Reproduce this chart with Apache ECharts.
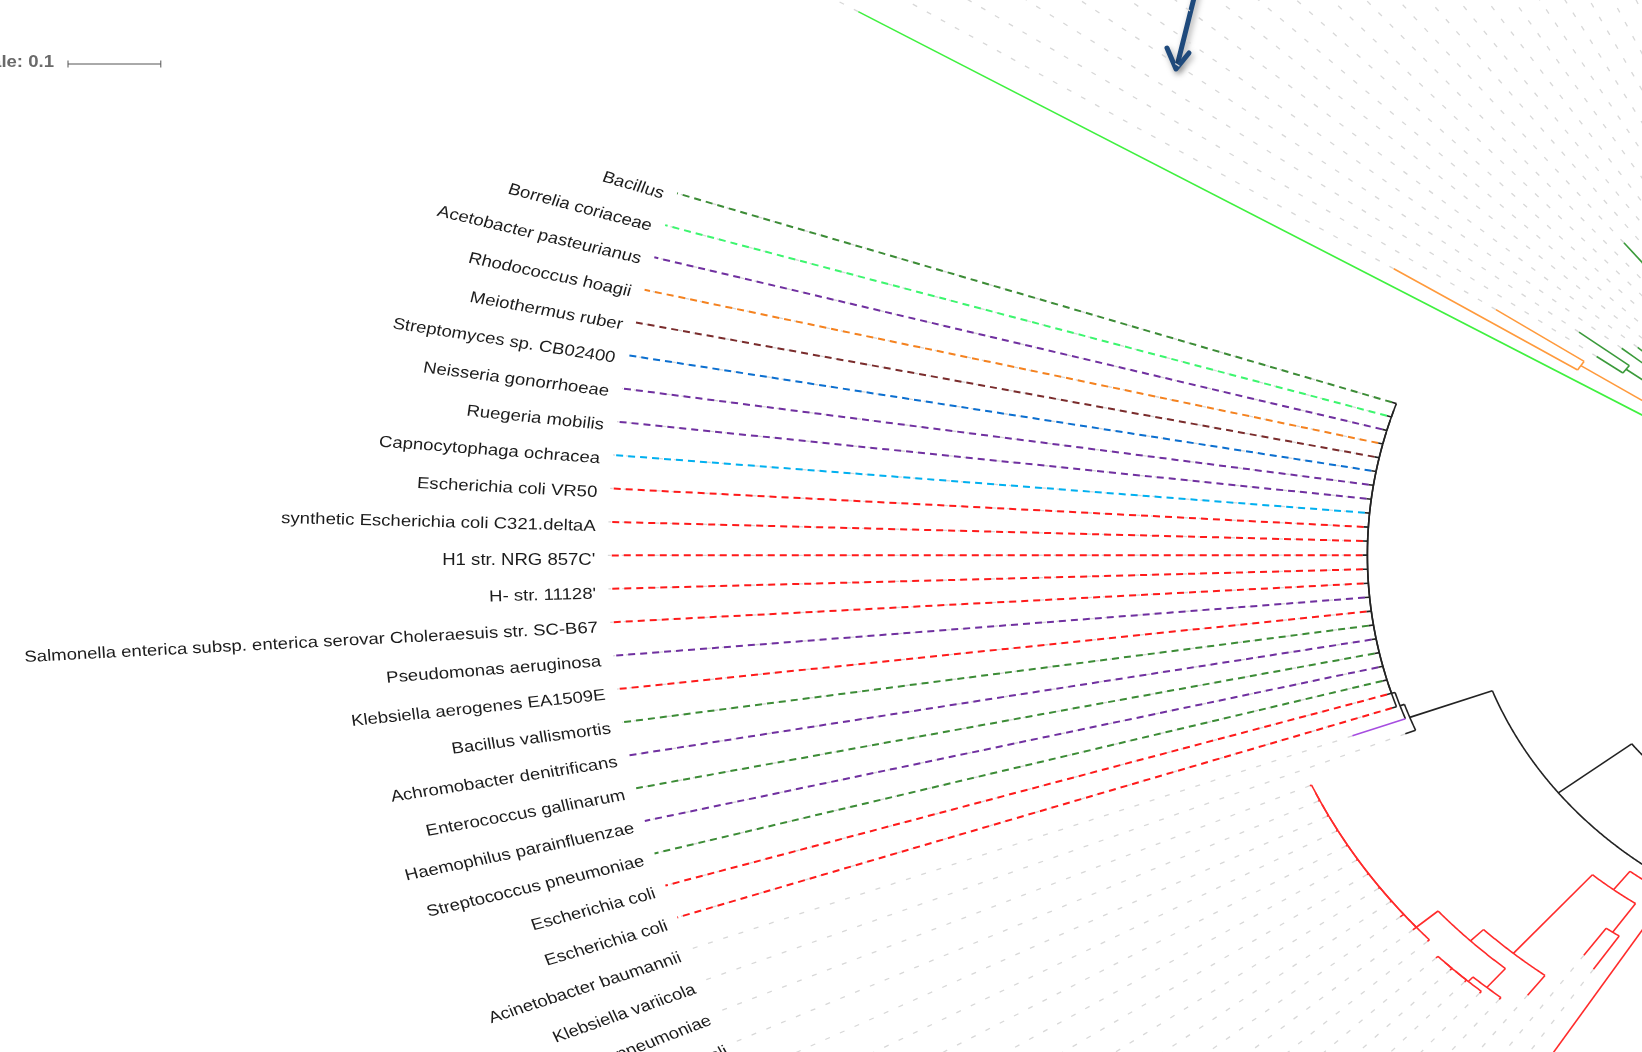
<!DOCTYPE html>
<html>
<head>
<meta charset="utf-8">
<title>Circular phylogeny</title>
<script src="https://cdn.jsdelivr.net/npm/echarts@6/dist/echarts.min.js"></script>
<style>
  html, body { margin: 0; padding: 0; background: #ffffff; }
  #chart { width: 1642px; height: 1052px; }
</style>
</head>
<body>
<div id="chart"></div>
<script>
// ---------------------------------------------------------------------------
// Leaves in ring order (clockwise from the opening of the circle)
// ---------------------------------------------------------------------------
const leafNames = [
  'Bacillus',
  'Borrelia coriaceae',
  'Acetobacter pasteurianus',
  'Rhodococcus hoagii',
  'Meiothermus ruber',
  'Streptomyces sp. CB02400',
  'Neisseria gonorrhoeae',
  'Ruegeria mobilis',
  'Capnocytophaga ochracea',
  'Escherichia coli VR50',
  'synthetic Escherichia coli C321.deltaA',
  "H1 str. NRG 857C'",
  "H- str. 11128'",
  'Salmonella enterica subsp. enterica serovar Choleraesuis str. SC-B67',
  'Pseudomonas aeruginosa',
  'Klebsiella aerogenes EA1509E',
  'Bacillus vallismortis',
  'Achromobacter denitrificans',
  'Enterococcus gallinarum',
  'Haemophilus parainfluenzae',
  'Streptococcus pneumoniae',
  'Escherichia coli',
  'Escherichia coli',
  'Acinetobacter baumannii',
  'Klebsiella variicola',
  'Klebsiella pneumoniae',
  'Escherichia coli'
];

// colour group of each labelled leaf's leader line (-1 = grey leader only)
const leafGroup = [0, 1, 2, 3, 4, 5, 2, 2, 6, 7, 7, 7, 7, 7, 2, 7, 0, 2, 0, 2, 0, 7, 7, -1, -1, -1, -1];
const groupColors = ['#3c8c36', '#3cf66e', '#7030a0', '#f5821f', '#7a2c2c', '#0b6fd0', '#00b0f0', '#ff1a1a'];

// ring geometry
const ringSize = 205;        // leaves on the full ring
const openAngle = 12.1;      // degrees left open between first and last leaf
const firstAngle = 161.26;   // direction of leaf 0 (degrees, counter-clockwise from +x)
const guideRadius = 1.4075;  // leader lines run out to this distance
const labelRadius = 1.421;   // labels end here
const scaleBarValue = 0.1;

// branch lengths of the comb-shaped clades (substitutions per site)
const blackLeafLen = [
  0.005, 0.005, 0.005, 0.005, 0.005, 0.005, 0.005, 0.005, 0.005, 0.005, 0.005, 0.005,
  0.005, 0.005, 0.005, 0.005, 0.005, 0.005, 0.005, 0.005, 0.005, 0.005, 0.005,
  0.061, 0.012
];
const blackSpineLen = [
  0, 0, 0, 0, 0, 0, 0, 0, 0, 0, 0, 0, 0, 0, 0, 0, 0, 0, 0, 0, 0, 0.004, 0.005
];
const redLeafLen = [0.002, 0.002, 0.002, 0.002, 0.002, 0.002, 0.002, 0.002, 0.002, 0.005, 0.005, 0.003];
const redSpineLen = [0, 0, 0, 0, 0, 0, 0, 0, 0, 0];
const redSubLeafLen = [0.003, 0.003, 0.003, 0.003, 0.003];
const redSubSpineLen = [0, 0, 0.0075];
// leaves 182-198 of the upper clade
const upperLeafLen = [0.08, 0.08, 0.08, 0.08, 0.08, 0.08, 0.08, 0.08, 0.08, 0.08, 0.2, 0.08, 0.08, 0.08, 0.08, 0.08, 0.095];

const BLACK = '#232323', RED = '#ff2b2b', PURPLE = '#a64de0', ORANGE = '#ff9a3c',
      DKGREEN = '#3a9a3a', LIME = '#3ff03f';

// ---------------------------------------------------------------------------
// Tree construction helpers
// ---------------------------------------------------------------------------
const leaf = (slot, len, color) => ({ slot, len, color });
const node = (len, color, children) => ({ len, color, children });
const hidden = (first, last, len) => ({ hidden: true, first, last, len });
function comb(stemLen, color, firstSlot, leafLens, spineLens) {
  let cur = leaf(firstSlot, leafLens[0]);
  for (let i = 1; i < leafLens.length; i++) {
    const len = i === leafLens.length - 1 ? stemLen : spineLens[i - 1];
    cur = node(len, i === leafLens.length - 1 ? color : undefined, [cur, leaf(firstSlot + i, leafLens[i])]);
  }
  return cur;
}
function upperClade() {
  return upperLeafLen.map((l, i) => leaf(182 + i, l));
}

const blackComb = comb(0.095, BLACK, 0, blackLeafLen, blackSpineLen);
// Acinetobacter branch is purple
blackComb.children[0].children[1].color = PURPLE;

const tree = node(0, BLACK, [
  node(0.30, BLACK, [
    node(0.085, BLACK, [
      node(0.10, BLACK, [
        blackComb,
        node(0.015, RED, [
          node(0.029, RED, [
            node(0.13, RED, [
              node(0.02, RED, [
                comb(0.031, RED, 25, redLeafLen, redSpineLen),
                comb(0.031, RED, 37, redSubLeafLen, redSubSpineLen)
              ]),
              leaf(42, 0.031)
            ]),
            node(0.0435, RED, [leaf(43, 0.0415), leaf(44, 0.05)])
          ]),
          leaf(45, 0.35)
        ])
      ]),
      hidden(46, 120, 0.1)
    ])
  ]),
  hidden(121, 181, 0.3),
  node(0.2, DKGREEN, [
    node(0.1, DKGREEN, upperClade()),
    node(0.15, DKGREEN, [
      node(0.0375, DKGREEN, [leaf(200, 0.0685), leaf(201, 0.035)]),
      leaf(199, 0.0575)
    ]),
    node(0.23, ORANGE, [leaf(202, 0.115), leaf(203, 0.235)]),
    leaf(204, 1.125, LIME)
  ])
]);

// ---------------------------------------------------------------------------
// Layout: leaves at evenly spaced angles, internal nodes at the mean of children
// ---------------------------------------------------------------------------
const step = (360 - openAngle) / (ringSize - 1);
const slotAngle = s => firstAngle + s * step;
const rad = d => d * Math.PI / 180;
const pt = (theta, r) => [r * Math.cos(rad(theta)), r * Math.sin(rad(theta))];

function place(n, r0, color) {
  n.color = n.color || color;
  n.r0 = r0;
  n.r = r0 + n.len;
  if (n.hidden) { n.theta = (slotAngle(n.first) + slotAngle(n.last)) / 2; return; }
  if (n.children) {
    n.children.forEach(c => place(c, n.r, n.color));
    n.theta = n.children.reduce((a, c) => a + c.theta, 0) / n.children.length;
  } else {
    n.theta = slotAngle(n.slot);
  }
}
place(tree, 0, BLACK);

const treePrims = [], guidePrims = [], linkPrims = [], labelItems = [];
function arcPts(t0, t1, r) {
  const n = Math.max(2, Math.ceil(Math.abs(t1 - t0) / 0.2) + 1);
  const out = [];
  for (let i = 0; i < n; i++) out.push(pt(t0 + (t1 - t0) * i / (n - 1), r));
  return out;
}
function collect(n, isRoot) {
  if (n.hidden) return;
  if (!isRoot && n.len > 0) {
    treePrims.push({ pts: [pt(n.theta, n.r0), pt(n.theta, n.r)], color: n.color, width: 1.6 });
  }
  if (n.children) {
    const ts = n.children.map(c => c.theta);
    const t0 = Math.min(...ts), t1 = Math.max(...ts);
    if (t1 > t0) treePrims.push({ pts: arcPts(t0, t1, n.r), color: n.color, width: 1.6 });
    n.children.forEach(c => collect(c, false));
  } else {
    guidePrims.push({ pts: [pt(n.theta, n.r), pt(n.theta, guideRadius)], color: '#d8d8d8', width: 1.3, dash: [5, 11] });
    const name = leafNames[n.slot];
    const g = leafGroup[n.slot];
    if (name !== undefined && g >= 0) {
      linkPrims.push({ pts: [pt(n.theta, n.r), pt(n.theta, guideRadius)], color: groupColors[g], width: 2, dash: [7, 5] });
    }
    if (name !== undefined) labelItems.push({ theta: n.theta, name });
  }
}
collect(tree, true);

// ---------------------------------------------------------------------------
// Chart
// ---------------------------------------------------------------------------
function lineSeries(prims, z) {
  return {
    type: 'custom',
    coordinateSystem: 'cartesian2d',
    silent: true,
    animation: false,
    z,
    encode: { x: 0, y: 1 },
    data: prims.map(p => p.pts[0]),
    renderItem: (params, api) => {
      const p = prims[params.dataIndex];
      return {
        type: 'polyline',
        shape: { points: p.pts.map(q => api.coord(q)) },
        style: { stroke: p.color, lineWidth: p.width, lineDash: p.dash || null, fill: 'none' }
      };
    }
  };
}

const chart = echarts.init(document.getElementById('chart'), null, { renderer: 'canvas' });
chart.setOption({
  animation: false,
  backgroundColor: '#ffffff',
  grid: { left: 0, right: 0, top: 0, bottom: 0, containLabel: false },
  xAxis: { type: 'value', min: -2.0625, max: -0.29310, show: false, splitLine: { show: false } },
  yAxis: { type: 'value', min: -0.62125, max: 0.69375, show: false, splitLine: { show: false } },
  series: [
    lineSeries(guidePrims, 1),
    lineSeries(linkPrims, 2),
    lineSeries(treePrims, 3),
    {
      type: 'custom',
      coordinateSystem: 'cartesian2d',
      silent: true,
      z: 4,
      encode: { x: 0, y: 1 },
      data: labelItems.map(l => pt(l.theta, labelRadius)),
      renderItem: (params, api) => {
        const l = labelItems[params.dataIndex];
        const c = api.coord(pt(l.theta, labelRadius));
        const s = api.size([1, 1]);
        return {
          type: 'group', x: c[0], y: c[1], scaleX: s[0] / s[1],
          children: [{
            type: 'text',
            rotation: rad(l.theta - 180),
            style: {
              text: l.name, x: 0, y: 5, align: 'right', verticalAlign: 'middle',
              fontSize: 16, fontFamily: '"Liberation Sans", Arial, sans-serif', fill: '#1c1c1c'
            }
          }]
        };
      }
    },
    {
      // scale bar, length taken from the horizontal axis scale
      type: 'custom',
      coordinateSystem: 'cartesian2d',
      silent: true,
      z: 5,
      encode: { x: 0, y: 1 },
      data: [[-2, 0.6]],
      renderItem: (params, api) => {
        const s = api.size([1, 1]);
        const len = api.size([scaleBarValue, 0])[0];
        const x0 = 68, y0 = 64;
        return {
          type: 'group',
          children: [
            { type: 'group', x: 54, y: 62.5, scaleX: s[0] / s[1], children: [{
                type: 'text', style: { text: 'Scale: ' + scaleBarValue, x: 0, y: 0, align: 'right', verticalAlign: 'middle',
                  fontSize: 16, fontWeight: 'bold', fontFamily: '"Liberation Sans", Arial, sans-serif', fill: '#6a6a6a' } }] },
            { type: 'line', shape: { x1: x0, y1: y0, x2: x0 + len, y2: y0 }, style: { stroke: '#555', lineWidth: 1 } },
            { type: 'line', shape: { x1: x0, y1: y0 - 3.5, x2: x0, y2: y0 + 3.5 }, style: { stroke: '#555', lineWidth: 1 } },
            { type: 'line', shape: { x1: x0 + len, y1: y0 - 3.5, x2: x0 + len, y2: y0 + 3.5 }, style: { stroke: '#555', lineWidth: 1 } }
          ]
        };
      }
    }
  ],
  graphic: [{
    type: 'group',
    silent: true,
    z: 10,
    children: [
      { type: 'polyline', shape: { points: [[1197, -14], [1177, 66]] },
        style: { stroke: '#1f4a7c', lineWidth: 5, lineCap: 'round', fill: 'none',
                 shadowBlur: 6, shadowColor: 'rgba(0,0,0,0.35)', shadowOffsetX: 2, shadowOffsetY: 3 } },
      { type: 'polyline', shape: { points: [[1167, 48], [1176, 69], [1189, 53]] },
        style: { stroke: '#1f4a7c', lineWidth: 5, lineCap: 'round', lineJoin: 'round', fill: 'none',
                 shadowBlur: 6, shadowColor: 'rgba(0,0,0,0.35)', shadowOffsetX: 2, shadowOffsetY: 3 } }
    ]
  }]
});
</script>
</body>
</html>
